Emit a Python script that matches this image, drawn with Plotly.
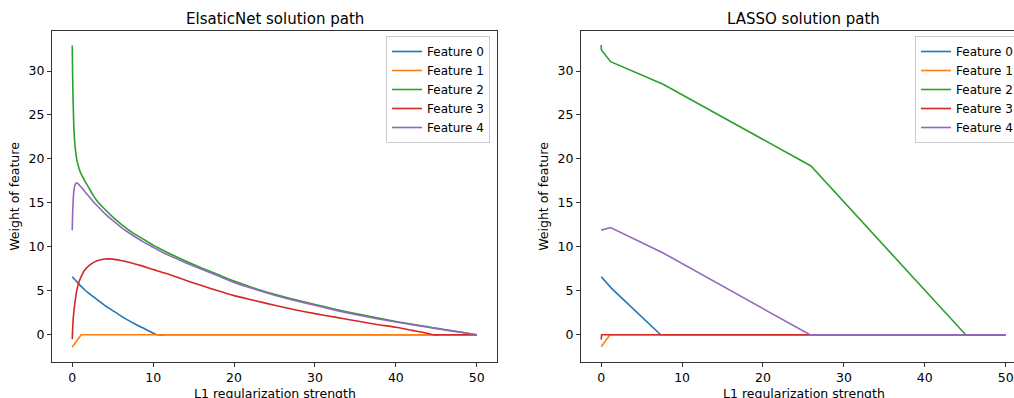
import plotly.graph_objects as go

# ---------------- data ----------------
features = ["Feature 0", "Feature 1", "Feature 2", "Feature 3", "Feature 4"]
colors = ["#1f77b4", "#ff7f0e", "#2ca02c", "#d62728", "#9467bd"]

# ElasticNet path (L1 regularization strength vs weight)
x_en = [0, 0.05, 0.1, 0.2, 0.3, 0.4, 0.5, 0.6, 0.8, 1.0,
        1.1, 1.5, 2, 2.5, 3, 4, 5, 6, 7, 8,
        9, 10, 10.5, 12, 14, 16, 18, 20, 22.5, 25,
        27.5, 30, 32.5, 35, 37.5, 40, 42, 44, 44.6, 46,
        48, 50]
en_f0 = [6.6, 6.55, 6.5, 6.4, 6.3, 6.2, 6.1, 6.0, 5.8, 5.6,
         5.5, 5.15, 4.75, 4.4, 4.05, 3.35, 2.75, 2.15, 1.6, 1.1,
         0.65, 0.2, 0, 0, 0, 0, 0, 0, 0, 0,
         0, 0, 0, 0, 0, 0, 0, 0, 0, 0,
         0, 0]
en_f1 = [-1.4, -1.34, -1.27, -1.15, -1.02, -0.89, -0.76, -0.64, -0.38, -0.13,
         0, 0, 0, 0, 0, 0, 0, 0, 0, 0,
         0, 0, 0, 0, 0, 0, 0, 0, 0, 0,
         0, 0, 0, 0, 0, 0, 0, 0, 0, 0,
         0, 0]
en_f2 = [32.9, 29.5, 27.0, 23.6, 22.0, 21.0, 20.3, 19.75, 19.05, 18.5,
         18.3, 17.6, 16.8, 16.0, 15.3, 14.3, 13.4, 12.6, 11.9, 11.3,
         10.75, 10.2, 9.95, 9.25, 8.4, 7.6, 6.85, 6.1, 5.3, 4.6,
         4.0, 3.45, 2.9, 2.4, 1.95, 1.5, 1.2, 0.9, 0.8, 0.6,
         0.3, 0]
en_f3 = [-0.5, 0.6, 1.5, 2.6, 3.4, 4.1, 4.7, 5.2, 5.9, 6.4,
         6.6, 7.3, 7.8, 8.15, 8.4, 8.62, 8.6, 8.45, 8.25, 8.0,
         7.72, 7.42, 7.28, 6.85, 6.2, 5.6, 5.0, 4.45, 3.9, 3.35,
         2.85, 2.4, 2.0, 1.6, 1.2, 0.85, 0.5, 0.15, 0, 0,
         0, 0]
en_f4 = [11.9, 13.8, 15.0, 16.3, 16.9, 17.15, 17.25, 17.25, 17.1, 16.9,
         16.8, 16.35, 15.8, 15.25, 14.75, 13.8, 13.0, 12.25, 11.6, 11.0,
         10.45, 9.95, 9.7, 9.0, 8.2, 7.45, 6.7, 5.95, 5.2, 4.5,
         3.9, 3.35, 2.8, 2.3, 1.85, 1.45, 1.15, 0.85, 0.75, 0.55,
         0.28, 0]

# LASSO path (piecewise linear)
la_x0 = [0, 1.28, 7.35, 50]
la_f0 = [6.6, 5.28, 0, 0]
la_x1 = [0, 1.08, 50]
la_f1 = [-1.36, 0, 0]
la_x2 = [0, 0.02, 1.16, 7.65, 25.93, 45.06, 50]
la_f2 = [32.96, 32.4, 31.06, 28.5, 19.2, 0, 0]
la_x3 = [0, 0.05, 50]
la_f3 = [-0.55, 0, 0]
la_x4 = [0, 1.16, 7.6, 25.8, 50]
la_f4 = [11.9, 12.2, 9.33, 0, 0]

x_ticks = [0, 10, 20, 30, 40, 50]
y_ticks = [0, 5, 10, 15, 20, 25, 30]

# ---------------- figure ----------------
FONT = "DejaVu Sans"
fig = go.Figure()

en_series = [en_f0, en_f1, en_f2, en_f3, en_f4]
for i, (name, col, ys) in enumerate(zip(features, colors, en_series)):
    shape = "linear" if i == 1 else "spline"
    fig.add_trace(go.Scatter(x=x_en, y=ys, mode="lines", name=name,
                             line=dict(color=col, width=1.6, shape=shape, smoothing=0.6),
                             xaxis="x", yaxis="y", legend="legend"))

la_series = [(la_x0, la_f0), (la_x1, la_f1), (la_x2, la_f2), (la_x3, la_f3), (la_x4, la_f4)]
for name, col, (xs, ys) in zip(features, colors, la_series):
    fig.add_trace(go.Scatter(x=xs, y=ys, mode="lines", name=name,
                             line=dict(color=col, width=1.6),
                             xaxis="x2", yaxis="y2", legend="legend2"))

W, H = 1014, 398
ml, mr, mt, mb = 52, 0, 31, 36
pw = W - ml - mr
ph = H - mt - mb


def px_x(p):
    return (p - ml) / pw


def px_y(p):
    return (H - mb - p) / ph


axis_common = dict(
    showgrid=False, zeroline=False, showline=True, linecolor="#333333", linewidth=1,
    ticks="outside", ticklen=4, tickwidth=1, tickcolor="#333333",
    tickfont=dict(family=FONT, size=12.5, color="#000000"),
    ticklabeloverflow="allow",
)

fig.update_layout(
    width=W, height=H,
    margin=dict(l=ml, r=mr, t=mt, b=mb, autoexpand=False),
    paper_bgcolor="white", plot_bgcolor="white",
    font=dict(family=FONT, size=12.5, color="#000000"),
    xaxis=dict(domain=[0, px_x(497)], range=[-2.5, 52.5], tickvals=x_ticks, mirror=True,
               anchor="y", **axis_common),
    yaxis=dict(domain=[0, 1], range=[-3.1, 34.55], tickvals=y_ticks, mirror=True, anchor="x",
               title=dict(text="Weight of feature", font=dict(family=FONT, size=12.5), standoff=6),
               **axis_common),
    xaxis2=dict(domain=[px_x(581), 1], range=[-2.5, (W - 601.3) / 8.087], tickvals=x_ticks,
                mirror=True, anchor="y2", **axis_common),
    yaxis2=dict(domain=[0, 1], range=[-3.1, 34.55], tickvals=y_ticks, mirror=False, anchor="x2",
                title=dict(text="Weight of feature", font=dict(family=FONT, size=12.5), standoff=6),
                **axis_common),
    legend=dict(x=px_x(490), xanchor="right", y=px_y(36), yanchor="top",
                bgcolor="rgba(255,255,255,0.8)", bordercolor="#cccccc", borderwidth=1,
                font=dict(family=FONT, size=12), tracegroupgap=0),
    legend2=dict(x=px_x(915), xanchor="left", y=px_y(36), yanchor="top",
                 bgcolor="rgba(255,255,255,0.8)", bordercolor="#cccccc", borderwidth=1,
                 font=dict(family=FONT, size=12), tracegroupgap=0),
    annotations=[
        dict(text="ElsaticNet solution path", x=px_x(274.5), y=px_y(19), xref="paper", yref="paper",
             xanchor="center", yanchor="middle", showarrow=False, font=dict(family=FONT, size=15)),
        dict(text="LASSO solution path", x=px_x(803.5), y=px_y(19), xref="paper", yref="paper",
             xanchor="center", yanchor="middle", showarrow=False, font=dict(family=FONT, size=15)),
        dict(text="L1 regularization strength", x=px_x(274.5), y=px_y(393), xref="paper", yref="paper",
             xanchor="center", yanchor="middle", showarrow=False, font=dict(family=FONT, size=12.5)),
        dict(text="L1 regularization strength", x=px_x(803.5), y=px_y(393), xref="paper", yref="paper",
             xanchor="center", yanchor="middle", showarrow=False, font=dict(family=FONT, size=12.5)),
    ],
    showlegend=True,
)

fig.write_html("out.html", config={"displayModeBar": False},
               post_script="document.body.style.margin='0';document.body.style.overflow='hidden';")
